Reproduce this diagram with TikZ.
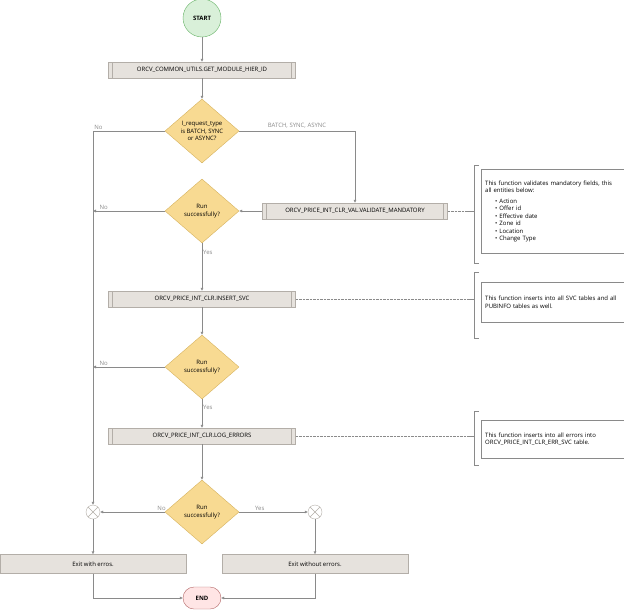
\documentclass[tikz,border=0pt]{standalone}
\usepackage{fontspec}
\setmainfont{Open Sans}
\usetikzlibrary{shapes.geometric,shapes.misc,arrows.meta}
\definecolor{boxfill}{HTML}{E6E2DD}
\definecolor{boxline}{HTML}{B3AEA8}
\definecolor{decfill}{HTML}{F8DA92}
\definecolor{decline}{HTML}{D6B25E}
\definecolor{edge}{HTML}{8A8A8A}
\tikzset{
  sub/.style={draw=boxline,fill=boxfill,minimum width=187pt,minimum height=16pt,inner sep=0pt,
    path picture={\draw[boxline] ([xshift=4pt]path picture bounding box.north west)--([xshift=4pt]path picture bounding box.south west)
        ([xshift=-4pt]path picture bounding box.north east)--([xshift=-4pt]path picture bounding box.south east);}},
  exit/.style={draw=boxline,fill=boxfill,minimum width=186pt,minimum height=19pt,inner sep=0pt},
  dec/.style={draw=decline,fill=decfill,diamond,minimum width=74pt,minimum height=64pt,inner sep=0pt,align=center},
  merge/.style={draw=boxline,fill=white,circle,minimum size=14pt,inner sep=0pt,
    path picture={\draw[boxline] (path picture bounding box.north west)--(path picture bounding box.south east)
        (path picture bounding box.north east)--(path picture bounding box.south west);}},
  note/.style={draw=edge,fill=white,minimum width=143pt,inner sep=4pt,align=left,text width=135pt},
  lbl/.style={inner sep=1pt},
  arr/.style={edge,-{Latex[length=3pt,width=3pt]}}
}
\begin{document}
\begin{tikzpicture}[x=1pt,y=-1pt,font=\fontsize{6}{7.5}\selectfont]
    \useasboundingbox (0,0) rectangle (624,611);

    \node[draw=black!50!green!60,fill=green!60!black!15,circle,minimum size=38pt,inner sep=0pt,font=\fontsize{6}{7}\selectfont\bfseries] (start) at (202,18) {START};
    \node[sub] (hier) at (202,70) {ORCV\_COMMON\_UTILS.GET\_MODULE\_HIER\_ID};
    \node[dec] (type) at (202,131) {I\_request\_type\\is BATCH, SYNC\\or ASYNC?};
    \node[sub,minimum width=185pt] (valid) at (355,211) {ORCV\_PRICE\_INT\_CLR\_VAL.VALIDATE\_MANDATORY};
    \node[dec] (run1) at (202,211) {Run\\successfully?};
    \node[sub] (ins) at (202,299) {ORCV\_PRICE\_INT\_CLR.INSERT\_SVC};
    \node[dec] (run2) at (202,367) {Run\\successfully?};
    \node[sub] (log) at (202,436) {ORCV\_PRICE\_INT\_CLR.LOG\_ERRORS};
    \node[dec] (run3) at (202,512) {Run\\successfully?};
    \node[merge] (jno) at (93,512) {};
    \node[merge] (jyes) at (315,512) {};
    \node[exit] (err) at (93,564) {Exit with erros.};
    \node[exit] (ok) at (315,564) {Exit without errors.};
    \node[draw=red!50!black!60,fill=red!10,rounded rectangle,minimum width=38pt,minimum height=22pt,inner sep=0pt,font=\fontsize{6}{7}\selectfont\bfseries] (end) at (202,598) {END};

    % notes
    \node[note,minimum height=84pt,anchor=north west] (n1) at (481,169) {This function validates mandatory fields, this all entities below:\\[3pt]
      \hspace*{10pt}\textbullet\ Action\\\hspace*{10pt}\textbullet\ Offer id\\\hspace*{10pt}\textbullet\ Effective date\\
      \hspace*{10pt}\textbullet\ Zone id\\\hspace*{10pt}\textbullet\ Location\\\hspace*{10pt}\textbullet\ Change Type};
    \node[note,minimum height=40pt,anchor=north west] (n2) at (481,282) {This function inserts into all SVC tables and all PUBINFO tables as well.};
    \node[note,minimum height=38pt,anchor=north west] (n3) at (481,420) {This function inserts into all errors into ORCV\_PRICE\_INT\_CLR\_ERR\_SVC table.};
    \foreach \t/\b in {165/263,272/338,411/465}{
      \draw[edge] (479,\t) -- (474,\t) -- (474,\b) -- (479,\b);
    }
    \coordinate (b1) at (474,211);
    \coordinate (b2) at (474,299);
    \coordinate (b3) at (474,436);
    \draw[edge,densely dotted] (valid) -- ([xshift=-6pt]b1); \draw[edge] ([xshift=-6pt]b1) -- (b1);
    \draw[edge,densely dotted] (ins) -- ([xshift=-6pt]b2); \draw[edge] ([xshift=-6pt]b2) -- (b2);
    \draw[edge,densely dotted] (log) -- ([xshift=-6pt]b3); \draw[edge] ([xshift=-6pt]b3) -- (b3);

    % flow
    \draw[arr] (start) -- (hier);
    \draw[arr] (hier) -- (type);
    \draw[arr] (type.east) -| node[lbl,pos=0.25,above=2pt] {BATCH, SYNC, ASYNC} (valid.north);
    \draw[arr] (valid) -- (run1);
    \draw[arr] (run1) -- node[lbl,pos=0.2,right] {Yes} (ins);
    \draw[arr] (ins) -- (run2);
    \draw[arr] (run2) -- node[lbl,pos=0.3,right] {Yes} (log);
    \draw[arr] (log) -- (run3);
    \draw[arr] (type.west) -- node[lbl,pos=0.85,above left] {No} (93,131) -- (jno);
    \draw[arr] (run1.west) -- node[lbl,pos=0.85,above] {No} (93,211);
    \draw[arr] (run2.west) -- node[lbl,pos=0.85,above] {No} (93,367);
    \draw[arr] (run3.west) -- node[lbl,pos=0.05,above] {No} (jno);
    \draw[arr] (run3.east) -- node[lbl,pos=0.3,above] {Yes} (jyes);
    \draw[arr] (jno) -- (err);
    \draw[arr] (jyes) -- (ok);
    \draw[arr] (err.south) |- (end.west);
    \draw[arr] (ok.south) |- (end.east);
\end{tikzpicture}
\end{document}
